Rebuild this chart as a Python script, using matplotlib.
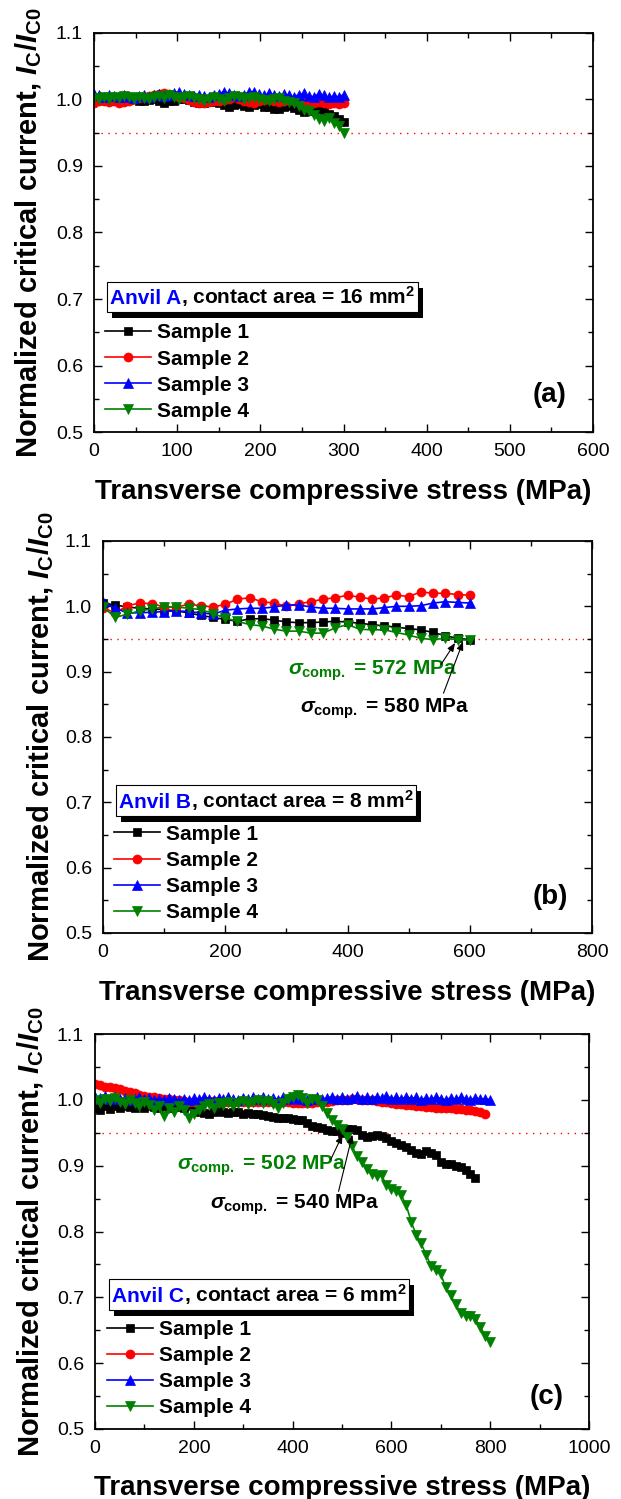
import matplotlib
matplotlib.use('Agg')
import matplotlib.pyplot as plt
from matplotlib.ticker import MultipleLocator
from matplotlib.patches import Rectangle
from matplotlib.offsetbox import TextArea, HPacker, AnchoredOffsetbox

plt.rcParams['font.family'] = ['Liberation Sans', 'DejaVu Sans']
plt.rcParams['mathtext.fontset'] = 'custom'
plt.rcParams['mathtext.rm'] = 'Liberation Sans:bold'
plt.rcParams['mathtext.it'] = 'Liberation Sans:italic:bold'
plt.rcParams['mathtext.bf'] = 'Liberation Sans:bold'

# ---------------- data ----------------
sample_labels = ['Sample 1', 'Sample 2', 'Sample 3', 'Sample 4']

# Panel (a) Anvil A
stress_a = list(range(0, 301, 6))
a_s1 = [1.000, 1.002, 0.999, 1.001, 0.998, 1.000, 1.001, 0.999, 1.000, 0.998,
        0.997, 0.999, 1.000, 0.998, 0.995, 0.997, 0.998, 1.000, 1.001, 0.999,
        0.996, 0.994, 0.995, 0.997, 0.996, 0.995, 0.992, 0.988, 0.992, 0.993,
        0.990, 0.989, 0.991, 0.993, 0.989, 0.988, 0.986, 0.985, 0.988, 0.990,
        0.987, 0.984, 0.981, 0.982, 0.984, 0.985, 0.982, 0.978, 0.975, 0.970,
        0.966]
a_s2 = [0.995, 0.997, 0.998, 0.996, 0.997, 0.995, 0.996, 0.998, 1.000, 1.002,
        1.003, 1.005, 1.006, 1.008, 1.009, 1.008, 1.007, 1.004, 1.002, 0.999,
        0.996, 0.995, 0.994, 0.996, 0.997, 0.998, 0.999, 1.001, 1.003, 1.000,
        0.998, 0.996, 0.994, 0.997, 0.999, 1.000, 0.998, 0.996, 0.997, 0.999,
        0.998, 0.996, 0.995, 0.994, 0.995, 0.996, 0.994, 0.993, 0.995, 0.993,
        0.994]
a_s3 = [1.008, 1.006, 1.004, 1.007, 1.005, 1.003, 1.006, 1.004, 1.002, 1.005,
        1.006, 1.004, 1.006, 1.008, 1.005, 1.007, 1.009, 1.011, 1.008, 1.006,
        1.005, 1.007, 1.005, 1.004, 1.006, 1.008, 1.012, 1.009, 1.006, 1.005,
        1.007, 1.011, 1.012, 1.008, 1.006, 1.009, 1.007, 1.005, 1.008, 1.006,
        1.004, 1.007, 1.009, 1.005, 1.004, 1.008, 1.006, 1.003, 1.005, 1.004,
        1.007]
a_s4 = [1.002, 1.000, 1.003, 1.001, 1.004, 1.002, 1.005, 1.003, 1.001, 1.004,
        1.002, 1.000, 1.003, 1.005, 1.002, 1.006, 1.004, 1.001, 1.003, 1.005,
        1.002, 1.000, 0.998, 1.001, 1.003, 1.000, 0.997, 1.002, 1.005, 1.003,
        1.000, 1.002, 1.004, 1.001, 0.999, 0.997, 1.000, 1.002, 0.998, 0.996,
        0.995, 0.990, 0.984, 0.982, 0.977, 0.970, 0.968, 0.972, 0.965, 0.960,
        0.950]

# Panel (b) Anvil B
stress_b = list(range(0, 601, 20))
b_s1 = [1.005, 1.002, 0.999, 0.997, 0.996, 0.995, 0.993, 0.990, 0.986, 0.983,
        0.980, 0.977, 0.981, 0.981, 0.979, 0.976, 0.975, 0.975, 0.976, 0.977,
        0.976, 0.974, 0.972, 0.970, 0.968, 0.966, 0.964, 0.960, 0.955, 0.951,
        0.949]
b_s2 = [0.998, 0.990, 1.001, 1.005, 1.004, 0.999, 0.999, 1.003, 1.001, 0.999,
        1.003, 1.011, 1.013, 1.007, 1.005, 1.000, 1.004, 1.007, 1.011, 1.013,
        1.017, 1.014, 1.011, 1.013, 1.017, 1.015, 1.022, 1.020, 1.020, 1.018,
        1.017]
b_s3 = [1.006, 0.997, 0.990, 0.990, 0.991, 0.992, 0.993, 0.992, 0.990, 0.988,
        0.994, 0.996, 0.997, 0.997, 0.999, 1.002, 1.002, 0.999, 0.997, 0.997,
        0.996, 0.996, 0.996, 0.998, 1.000, 1.000, 1.001, 1.005, 1.007, 1.006,
        1.005]
b_s4 = [0.999, 0.983, 0.988, 0.993, 0.996, 0.999, 0.999, 0.997, 0.995, 0.989,
        0.982, 0.977, 0.972, 0.970, 0.965, 0.962, 0.962, 0.959, 0.959, 0.967,
        0.972, 0.965, 0.964, 0.964, 0.960, 0.956, 0.951, 0.949, 0.951, 0.949,
        0.948]

# Panel (c) Anvil C
stress_c1 = list(range(0, 771, 10))
stress_c2 = list(range(0, 791, 10))
stress_c3 = list(range(0, 801, 10))
stress_c4 = list(range(0, 801, 10))
c_s1 = [0.988, 0.985, 0.990, 0.986, 0.990, 0.988, 0.991, 0.989, 0.987, 0.990,
        0.988, 0.991, 0.989, 0.987, 0.990, 0.988, 0.991, 0.989, 0.987, 0.990,
        0.985, 0.982, 0.980, 0.979, 0.981, 0.983, 0.982, 0.980, 0.982, 0.981,
        0.979, 0.980, 0.978, 0.979, 0.977, 0.976, 0.974, 0.973, 0.972, 0.972,
        0.971, 0.970, 0.969, 0.965, 0.961, 0.958, 0.957, 0.954, 0.953, 0.952,
        0.950, 0.955, 0.956, 0.954, 0.946, 0.944, 0.945, 0.946, 0.945, 0.942,
        0.938, 0.935, 0.932, 0.928, 0.924, 0.920, 0.918, 0.922, 0.920, 0.916,
        0.905, 0.903, 0.902, 0.900, 0.898, 0.893, 0.888, 0.882]
c_s2 = [1.024, 1.022, 1.020, 1.019, 1.018, 1.016, 1.014, 1.012, 1.010, 1.008,
        1.006, 1.005, 1.004, 1.003, 1.002, 1.001, 1.000, 0.999, 0.998, 0.997,
        0.997, 0.997, 0.998, 0.998, 0.998, 0.997, 0.997, 0.997, 0.996, 0.996,
        0.996, 0.997, 0.997, 0.996, 0.996, 0.996, 0.996, 0.996, 0.996, 0.996,
        0.995, 0.995, 0.995, 0.995, 0.995, 0.996, 0.996, 0.997, 0.998, 0.999,
        1.000, 1.000, 1.001, 1.001, 1.000, 1.000, 0.999, 0.998, 0.997, 0.996,
        0.995, 0.994, 0.993, 0.992, 0.992, 0.991, 0.990, 0.989, 0.989, 0.988,
        0.988, 0.987, 0.987, 0.986, 0.986, 0.985, 0.984, 0.983, 0.981, 0.979]
c_s3 = [1.005, 1.003, 1.006, 1.002, 1.004, 1.001, 1.003, 1.000, 1.002, 1.004,
        1.001, 1.003, 0.999, 1.002, 1.000, 1.003, 1.001, 0.999, 1.002, 1.000,
        1.003, 1.001, 1.004, 1.002, 1.000, 1.003, 1.001, 1.004, 1.002, 1.000,
        1.003, 1.001, 1.004, 1.002, 1.005, 1.001, 1.003, 1.000, 1.004, 1.002,
        1.005, 1.001, 1.003, 1.000, 1.002, 1.004, 1.001, 1.003, 1.005, 1.002,
        1.004, 1.001, 1.003, 1.006, 1.002, 1.004, 1.001, 1.005, 1.003, 1.006,
        1.002, 1.004, 1.001, 1.005, 1.002, 1.004, 1.000, 1.003, 1.001, 1.004,
        1.002, 1.000, 1.003, 1.001, 1.004, 1.002, 1.000, 1.003, 1.001, 1.002,
        1.000]
c_s4 = [1.000, 0.995, 1.002, 0.998, 1.003, 0.996, 0.993, 1.000, 0.995, 0.990,
        0.997, 0.992, 0.985, 0.990, 0.975, 0.988, 0.982, 0.990, 0.985, 0.972,
        0.978, 0.985, 0.990, 0.993, 0.988, 0.995, 0.992, 0.997, 0.990, 0.995,
        0.998, 0.993, 0.996, 1.000, 0.995, 0.998, 0.993, 0.988, 0.995, 1.002,
        1.005, 1.008, 1.003, 0.995, 1.002, 1.000, 0.990, 0.980, 0.970, 0.962,
        0.955, 0.944, 0.930, 0.915, 0.905, 0.895, 0.887, 0.884, 0.886, 0.870,
        0.864, 0.862, 0.855, 0.840, 0.815, 0.795, 0.782, 0.765, 0.748, 0.742,
        0.735, 0.715, 0.703, 0.690, 0.676, 0.672, 0.671, 0.667, 0.655, 0.642,
        0.632]

criterion = 0.95

colors = ['#000000', '#ff0000', '#0000ff', '#008000']
markers = ['s', 'o', '^', 'v']
msizes = [5.5, 6.5, 7.0, 7.0]

panels = [
    dict(rect=[0.1514, 0.7118, 0.8035, 0.2662], xmax=600, xmaj=100, xmin=50,
         series=[(stress_a, a_s1), (stress_a, a_s2), (stress_a, a_s3), (stress_a, a_s4)],
         anvil='Anvil A', area=', contact area = 16 mm$^2$', tag='(a)',
         box=(0.026, 0.377), leg=(0.022, 0.272), ylab_x=-0.100, xlab_y=-0.118, tag_xy=(0.913, 0.092),
         notes=[]),
    dict(rect=[0.1659, 0.3776, 0.7874, 0.2615], xmax=800, xmaj=200, xmin=100,
         series=[(stress_b, b_s1), (stress_b, b_s2), (stress_b, b_s3), (stress_b, b_s4)],
         anvil='Anvil B', area=', contact area = 8 mm$^2$', tag='(b)',
         box=(0.027, 0.377), leg=(0.023, 0.276), ylab_x=-0.096, xlab_y=-0.120, tag_xy=(0.915, 0.091),
         notes=[('$\\sigma_{\\mathrm{comp.}}$ = 572 MPa', colors[3], (303, 0.895), (553, 0.911), (576, 0.944)),
                ('$\\sigma_{\\mathrm{comp.}}$ = 580 MPa', colors[0], (323, 0.837), (557, 0.867), (589, 0.946))]),
    dict(rect=[0.1530, 0.0467, 0.7955, 0.2635], xmax=1000, xmaj=200, xmin=100,
         series=[(stress_c1, c_s1), (stress_c2, c_s2), (stress_c3, c_s3), (stress_c4, c_s4)],
         anvil='Anvil C', area=', contact area = 6 mm$^2$', tag='(c)',
         box=(0.028, 0.379), leg=(0.024, 0.276), ylab_x=-0.099, xlab_y=-0.116, tag_xy=(0.914, 0.082),
         notes=[('$\\sigma_{\\mathrm{comp.}}$ = 502 MPa', colors[3], (165, 0.894), (477, 0.909), (501, 0.947)),
                ('$\\sigma_{\\mathrm{comp.}}$ = 540 MPa', colors[0], (233, 0.834), (493, 0.861), (521, 0.947))]),
]

fig = plt.figure(figsize=(6.21, 14.99), dpi=100)
boxes = []
for p in panels:
    ax = fig.add_axes(p['rect'])
    handles = []
    for (xs, ys), c, m, ms, lab in zip(p['series'], colors, markers, msizes, sample_labels):
        n = min(len(xs), len(ys))
        ln, = ax.plot(xs[:n], ys[:n], color=c, marker=m, markersize=ms, lw=1.2,
                      markeredgecolor=c, markeredgewidth=0.5, label=lab)
        handles.append(ln)
    ax.axhline(criterion, color='#ff0000', lw=1.0, linestyle=(0, (1, 4)), zorder=1)
    ax.set_xlim(0, p['xmax'])
    ax.set_ylim(0.5, 1.1)
    ax.xaxis.set_major_locator(MultipleLocator(p['xmaj']))
    ax.xaxis.set_minor_locator(MultipleLocator(p['xmin']))
    ax.yaxis.set_major_locator(MultipleLocator(0.1))
    ax.yaxis.set_minor_locator(MultipleLocator(0.05))
    ax.yaxis.set_major_formatter(matplotlib.ticker.FormatStrFormatter('%.1f'))
    ax.tick_params(which='both', direction='in', top=True, right=True, labelsize=14, pad=8, width=1.0)
    ax.tick_params(which='major', length=6)
    ax.tick_params(which='minor', length=3.5)
    for s in ax.spines.values():
        s.set_linewidth(1.3)
    ax.set_xlabel('Transverse compressive stress (MPa)', fontsize=20, fontweight='bold')
    ax.set_ylabel('Normalized critical current, $I_\\mathrm{C}/I_\\mathrm{C0}$', fontsize=21, fontweight='bold')
    ax.xaxis.set_label_coords(0.5, p['xlab_y'])
    ax.yaxis.set_label_coords(p['ylab_x'], 0.5)
    ax.text(p['tag_xy'][0], p['tag_xy'][1], p['tag'], transform=ax.transAxes, ha='center', va='center',
            fontsize=20, fontweight='bold')
    for txt, col, tpos, tail, tip in p['notes']:
        ax.text(tpos[0], tpos[1], txt, color=col, fontsize=15, fontweight='bold', ha='left', va='baseline')
        ax.annotate('', xy=tip, xytext=tail,
                    arrowprops=dict(arrowstyle='-|>,head_length=0.5,head_width=0.2', color='black',
                                    lw=0.8, shrinkA=0, shrinkB=0))
    leg = ax.legend(handles=handles, loc='upper left', bbox_to_anchor=p['leg'], frameon=False,
                    prop=dict(size=15, weight='bold'), handlelength=2.2, handletextpad=0.3,
                    labelspacing=0.34, borderpad=0, borderaxespad=0, numpoints=1)
    ta1 = TextArea(p['anvil'], textprops=dict(color='#0000ff', fontsize=15, fontweight='bold'))
    ta2 = TextArea(p['area'], textprops=dict(color='black', fontsize=15, fontweight='bold'))
    hb = HPacker(children=[ta1, ta2], align='baseline', pad=0, sep=0)
    anc = AnchoredOffsetbox(loc='upper left', child=hb, pad=0.2, borderpad=0, frameon=True,
                            bbox_to_anchor=p['box'], bbox_transform=ax.transAxes)
    anc.patch.set_edgecolor('black')
    anc.patch.set_linewidth(0.8)
    anc.set_zorder(6)
    ax.add_artist(anc)
    boxes.append((ax, anc))

fig.canvas.draw()
renderer = fig.canvas.get_renderer()
for ax, anc in boxes:
    bb = anc.get_window_extent(renderer)
    inv = ax.transAxes.inverted()
    (x0, y0) = inv.transform((bb.x0 + 5, bb.y0 - 6))
    (x1, y1) = inv.transform((bb.x1 + 5, bb.y1 - 6))
    ax.add_patch(Rectangle((x0, y0), x1 - x0, y1 - y0, transform=ax.transAxes, facecolor='black',
                           edgecolor='none', zorder=5.5, clip_on=False))

fig.savefig('out.png', dpi=100)
